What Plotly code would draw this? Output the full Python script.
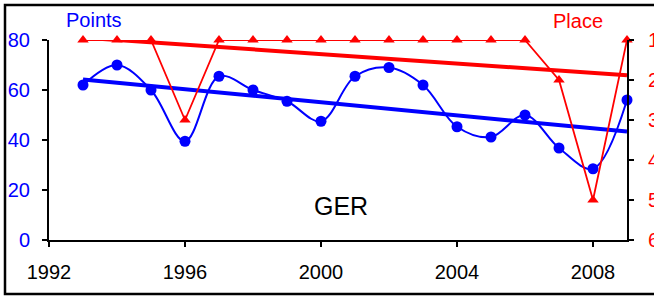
import numpy as np
import plotly.graph_objects as go

years = list(range(1993, 2010))
points = [62, 70, 60, 39.5, 65.5, 60, 55.5, 47.5, 65.5, 69, 62, 45.3, 41.2, 50, 36.8, 28.5, 56]
places = [1, 1, 1, 3, 1, 1, 1, 1, 1, 1, 1, 1, 1, 1, 2, 5, 1]
x_ticks = [1992, 1996, 2000, 2004, 2008]
left_ticks = [0, 20, 40, 60, 80]
right_ticks = [1, 2, 3, 4, 5, 6]
label_text = "GER"

BLUE = "#0000FF"
RED = "#FF0000"
FONT = "Arial, Liberation Sans, sans-serif"

yrs = np.array(years, dtype=float)
pb = np.polyfit(yrs, np.array(points, dtype=float), 1)
pr = np.polyfit(yrs, np.array(places, dtype=float), 1)
tx = [years[0], years[-1]]

fig = go.Figure()
fig.add_trace(go.Scatter(x=years, y=points, mode="lines+markers",
                         line=dict(color=BLUE, width=2, shape="spline", smoothing=1),
                         marker=dict(color=BLUE, size=11, symbol="circle"),
                         cliponaxis=False, showlegend=False))
fig.add_trace(go.Scatter(x=tx, y=list(np.polyval(pb, tx)), mode="lines",
                         line=dict(color=BLUE, width=4), showlegend=False))
fig.add_trace(go.Scatter(x=years, y=places, mode="lines+markers", yaxis="y2",
                         line=dict(color=RED, width=1.8),
                         marker=dict(color=RED, size=10, symbol="triangle-up"),
                         cliponaxis=False, showlegend=False))
fig.add_trace(go.Scatter(x=tx, y=list(np.polyval(pr, tx)), mode="lines", yaxis="y2",
                         line=dict(color=RED, width=4), showlegend=False))

fig.update_layout(
    width=654, height=296,
    margin=dict(l=49, r=27, t=40, b=56, autoexpand=False),
    paper_bgcolor="white", plot_bgcolor="white",
    font=dict(family=FONT, size=20, color="black"),
    xaxis=dict(range=[1992, 2009], tickvals=x_ticks, showgrid=False, zeroline=False,
               showline=True, linecolor="black", linewidth=2,
               ticks="outside", ticklen=5, tickwidth=1.5, tickcolor="black",
               ticklabelstandoff=8, tickfont=dict(size=20, color="black"), automargin=False),
    yaxis=dict(range=[0, 80], tickvals=left_ticks, showgrid=False, zeroline=False,
               showline=True, linecolor="black", linewidth=2,
               ticks="outside", ticklen=5, tickwidth=1.5, tickcolor="black",
               ticklabelstandoff=8, tickfont=dict(size=20, color=BLUE), automargin=False),
    yaxis2=dict(range=[6, 1], tickvals=right_ticks, overlaying="y", side="right",
                showgrid=False, zeroline=False,
                showline=True, linecolor="black", linewidth=2,
                ticks="outside", ticklen=5, tickwidth=1.5, tickcolor="black",
                ticklabelstandoff=10, tickfont=dict(size=20, color=RED), automargin=False),
    annotations=[
        dict(text="Points", xref="paper", yref="paper", x=(94 - 49) / 578, y=(240 - 20) / 200,
             showarrow=False, font=dict(size=20, color=BLUE), xanchor="center", yanchor="middle"),
        dict(text="Place", xref="paper", yref="paper", x=(578 - 49) / 578, y=(240 - 21) / 200,
             showarrow=False, font=dict(size=20, color=RED), xanchor="center", yanchor="middle"),
        dict(text=label_text, x=2000.6, y=13.6, xref="x", yref="y",
             showarrow=False, font=dict(size=25, color="black"), xanchor="center", yanchor="middle"),
    ],
    shapes=[dict(type="rect", xref="paper", yref="paper",
                 x0=(5 - 49) / 578, x1=(662 - 49) / 578,
                 y0=(240 - 294) / 200, y1=(240 - 5) / 200,
                 line=dict(color="black", width=2.5), fillcolor="rgba(0,0,0,0)", layer="below")],
)

fig.write_html("out.html", config={"displayModeBar": False},
               post_script="document.body.style.margin='0';document.body.style.overflow='hidden';")
